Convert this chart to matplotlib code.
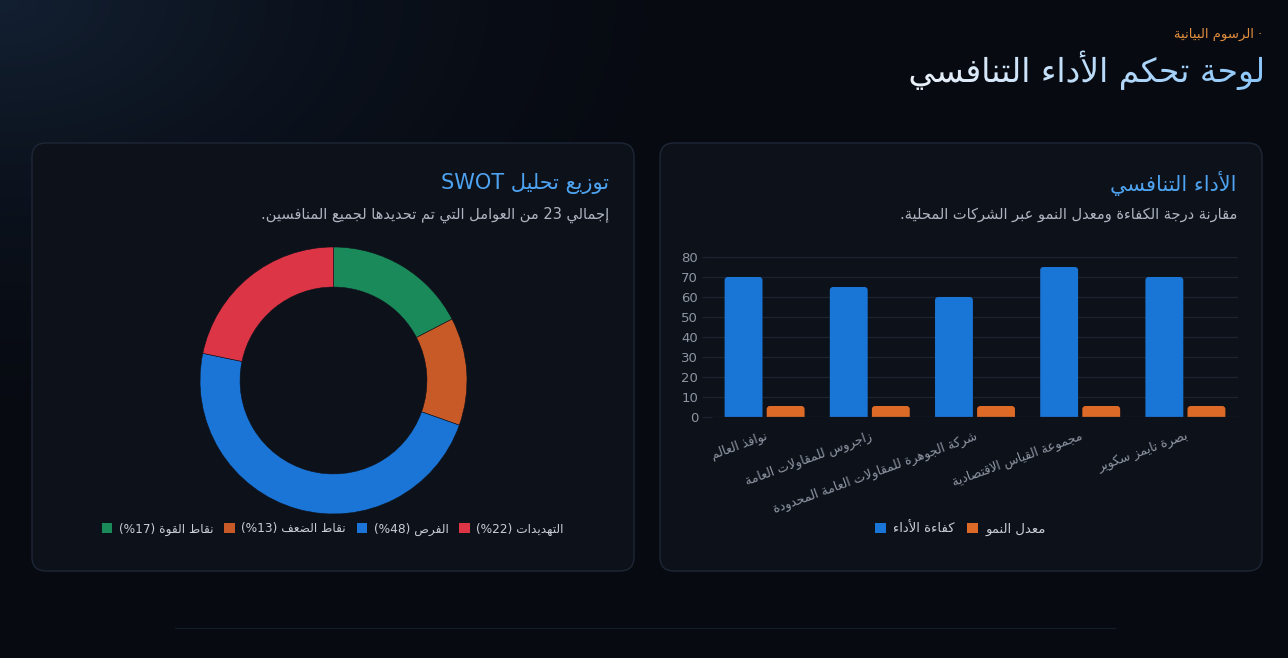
import re
import numpy as np
import matplotlib
matplotlib.use("Agg")
import matplotlib.pyplot as plt
from matplotlib.patches import FancyBboxPatch, Patch, PathPatch
from matplotlib.textpath import TextPath
from matplotlib.font_manager import FontProperties
from matplotlib.transforms import Affine2D

# ---- data ----
companies = [
    "نوافذ العالم",
    "زاجروس للمقاولات العامة",
    "شركة الجوهرة للمقاولات العامة المحدودة",
    "مجموعة القياس الاقتصادية",
    "بصرة تايمز سكوير",
]
efficiency = [70, 65, 60, 75, 70]
growth = [5.5, 5.5, 5.5, 5.5, 5.5]
series_names = ["كفاءة الأداء", "معدل النمو"]
bar_colors = ["#1a76d6", "#dd6a26"]

swot_labels = ["نقاط القوة", "نقاط الضعف", "الفرص", "التهديدات"]
swot_counts = [4, 3, 11, 5]
swot_colors = ["#1b8a5a", "#c85a28", "#1a75d6", "#dc3545"]

# ---- arabic shaping (matplotlib has no complex text layout) ----
FORMS = {"\u0621": (0xFE80, 1)}
for ch, base in [("آ", 0xFE81), ("أ", 0xFE83), ("ؤ", 0xFE85), ("إ", 0xFE87),
                 ("ا", 0xFE8D), ("ة", 0xFE93), ("د", 0xFEA9), ("ذ", 0xFEAB),
                 ("ر", 0xFEAD), ("ز", 0xFEAF), ("و", 0xFEED), ("ى", 0xFEEF)]:
    FORMS[ch] = (base, 2)
for ch, base in [("ئ", 0xFE89), ("ب", 0xFE8F), ("ت", 0xFE95), ("ث", 0xFE99),
                 ("ج", 0xFE9D), ("ح", 0xFEA1), ("خ", 0xFEA5), ("س", 0xFEB1),
                 ("ش", 0xFEB5), ("ص", 0xFEB9), ("ض", 0xFEBD), ("ط", 0xFEC1),
                 ("ظ", 0xFEC5), ("ع", 0xFEC9), ("غ", 0xFECD), ("ف", 0xFED1),
                 ("ق", 0xFED5), ("ك", 0xFED9), ("ل", 0xFEDD), ("م", 0xFEE1),
                 ("ن", 0xFEE5), ("ه", 0xFEE9), ("ي", 0xFEF1)]:
    FORMS[ch] = (base, 4)
LAM_ALEF = {"آ": 0xFEF5, "أ": 0xFEF7, "إ": 0xFEF9, "ا": 0xFEFB}


def shape(s):
    out = []
    prev_joins = False
    i = 0
    while i < len(s):
        c = s[i]
        if c == "ل" and i + 1 < len(s) and s[i + 1] in LAM_ALEF:
            out.append(chr(LAM_ALEF[s[i + 1]] + (1 if prev_joins else 0)))
            prev_joins = False
            i += 2
            continue
        if c in FORMS:
            base, k = FORMS[c]
            nxt = s[i + 1] if i + 1 < len(s) else ""
            joins_next = k == 4 and nxt in FORMS and FORMS[nxt][1] > 1
            if k == 1:
                form = base
            elif prev_joins and joins_next:
                form = base + 3
            elif prev_joins:
                form = base + 1
            elif joins_next:
                form = base + 2
            else:
                form = base
            out.append(chr(form))
            prev_joins = joins_next
        else:
            out.append(c)
            prev_joins = False
        i += 1
    return "".join(out)


def ar(s):
    # shape, then put into visual (right-to-left) order, keeping latin/digit runs
    shaped = shape(s)
    runs = re.findall(r"[A-Za-z0-9]+(?: [A-Za-z0-9]+)*|[^A-Za-z0-9]+", shaped)
    mirror = {"(": ")", ")": "("}
    out = []
    for r in reversed(runs):
        if re.match(r"[A-Za-z0-9]", r):
            out.append(r)
        else:
            out.append("".join(mirror.get(c, c) for c in reversed(r)))
    return "".join(out)


plt.rcParams["font.family"] = ["DejaVu Sans"]

W, H = 1288, 658
fig = plt.figure(figsize=(W / 100, H / 100), dpi=100)


def px(x0, y0, x1, y1):
    return [x0 / W, 1 - y1 / H, (x1 - x0) / W, (y1 - y0) / H]


# background with soft glow in the top-left corner
bg = fig.add_axes([0, 0, 1, 1], zorder=-5)
bg.set_xlim(0, W)
bg.set_ylim(H, 0)
bg.axis("off")
yy, xx = np.mgrid[0:H, 0:W]
d = np.sqrt((xx / 750.0) ** 2 + (yy / 460.0) ** 2)
glow = np.clip(1 - d, 0, 1) ** 1.8
c0 = np.array([7, 10, 17]) / 255
c1 = np.array([19, 32, 50]) / 255
img = c0[None, None, :] + glow[..., None] * (c1 - c0)[None, None, :]
bg.imshow(img, extent=[0, W, H, 0], aspect="auto", zorder=0)
bg.plot([175, 1115], [628, 628], color="#161d29", lw=0.8, zorder=1)

for x0 in (32, 660):
    bg.add_patch(FancyBboxPatch((x0, 143), 602, 428,
                                boxstyle="round,pad=0,rounding_size=14",
                                fc="#0d111a", ec="#1e2736", lw=1.0, zorder=2))

# header
bg.text(1262, 34, ar("الرسوم البيانية") + " \u00b7", color="#e38f3f", fontsize=9.5,
        ha="right", va="center", zorder=3)

# page title with a light-blue to white gradient fill
title = ar("لوحة تحكم الأداء التنافسي")
tp = TextPath((0, 0), title, size=33, prop=FontProperties(family="DejaVu Sans"))
tw = tp.get_extents().x1
tr = Affine2D().scale(1, -1).translate(1262 - tw, 82)
tpatch = PathPatch(tr.transform_path(tp), transform=bg.transData, fc="none", ec="none")
bg.add_patch(tpatch)
grad = np.linspace(0, 1, 256)[None, :, None]
left_c = np.array([0.93, 0.95, 0.98])
right_c = np.array([0.55, 0.78, 0.98])
gimg = left_c + grad * (right_c - left_c)
gi = bg.imshow(gimg, extent=[1262 - tw, 1262, 90, 40], aspect="auto", zorder=3)
gi.set_clip_path(tpatch)

# card titles
bg.text(1237, 184, ar("الأداء التنافسي"), color="#4ea3f0", fontsize=15,
        ha="right", va="center", zorder=3)
bg.text(1237, 215, ar("مقارنة درجة الكفاءة ومعدل النمو عبر الشركات المحلية."),
        color="#aeb5c1", fontsize=10.5, ha="right", va="center", zorder=3)
bg.text(609, 183, ar("توزيع تحليل SWOT"), color="#4ea3f0", fontsize=15,
        ha="right", va="center", zorder=3)
bg.text(609, 215, ar("إجمالي 23 من العوامل التي تم تحديدها لجميع المنافسين."),
        color="#aeb5c1", fontsize=10.5, ha="right", va="center", zorder=3)

# ---- bar chart ----
ax = fig.add_axes(px(712, 257, 1238, 417))
ax.set_facecolor("none")
x = np.arange(len(companies))
b1 = ax.bar(x - 0.2, efficiency, width=0.36, color=bar_colors[0], zorder=3)
b2 = ax.bar(x + 0.2, growth, width=0.36, color=bar_colors[1], zorder=3)
ax.set_xlim(-0.5, len(companies) - 0.5)
ax.set_ylim(0, 80)

# rounded top corners: redraw each bar as a rounded box whose bottom dips below
# the axis, so the clip keeps the lower corners square
aspect = (80 / 160.0) / (len(companies) / 526.0)
for bars in (b1, b2):
    for r in bars:
        bx, by, bw, bh = r.get_x(), r.get_y(), r.get_width(), r.get_height()
        fc = r.get_facecolor()
        r.set_visible(False)
        ax.add_patch(FancyBboxPatch((bx, by - 3), bw, bh + 3,
                                    boxstyle="round,pad=0,rounding_size=0.03",
                                    mutation_aspect=aspect, fc=fc, ec="none", zorder=3))

ax.set_yticks(range(0, 81, 10))
ax.grid(axis="y", color="#1c2331", lw=0.9, zorder=0)
for s in ax.spines.values():
    s.set_visible(False)
ax.tick_params(axis="y", colors="#1c2331", labelcolor="#8e96a3", labelsize=9.5,
               length=7, width=0.9, pad=3)
ax.set_xticks(x)
ax.set_xticklabels([ar(c) for c in companies], rotation=20, ha="right",
                   rotation_mode="anchor", color="#8e96a3", fontsize=9)
ax.tick_params(axis="x", length=0, pad=9)
ax.axhline(0, color="#1c2331", lw=0.9, zorder=4)
bar_handles = [Patch(fc=c, ec="none") for c in bar_colors]
ax.legend(bar_handles, [ar(n) for n in series_names], loc="center",
          bbox_to_anchor=((960 - 712) / 526.0, (417 - 529) / 160.0), ncol=2,
          frameon=False, handlelength=0.85, handleheight=0.85, handletextpad=0.55,
          columnspacing=0.9, labelcolor="#c9ced6", fontsize=9.5)

# ---- donut ----
ax2 = fig.add_axes(px(200, 247, 467, 514))
total = sum(swot_counts)
ax2.pie(swot_counts, colors=swot_colors, startangle=90, counterclock=False,
        radius=1.0, wedgeprops=dict(width=0.3, edgecolor="#0d111a", linewidth=0.4))
ax2.set_xlim(-1, 1)
ax2.set_ylim(-1, 1)
handles = [Patch(fc=c, ec="none") for c in swot_colors]
labels = [ar("%s (%d%%)" % (l, round(100 * v / total))) for l, v in zip(swot_labels, swot_counts)]
fig.legend(handles, labels, loc="center", bbox_to_anchor=(333 / W, 1 - 529 / H), ncol=4,
           frameon=False, handlelength=0.85, handleheight=0.85, handletextpad=0.55,
           columnspacing=0.9, labelcolor="#c9ced6", fontsize=8.7)

fig.savefig("out.png", dpi=100, facecolor="#070a11")
